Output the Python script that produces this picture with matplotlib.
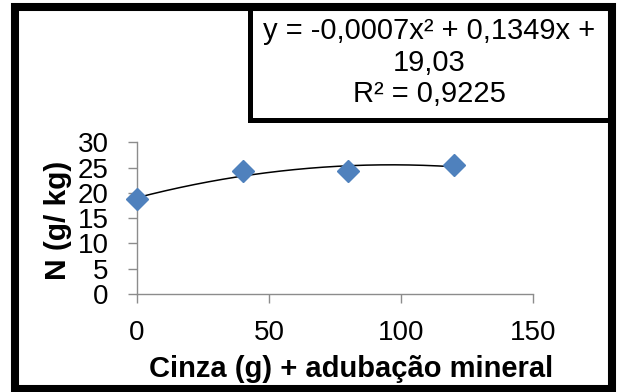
import numpy as np
import matplotlib
matplotlib.use("Agg")
import matplotlib.pyplot as plt
from matplotlib.patches import Rectangle
from matplotlib.lines import Line2D

# Data
cinza = [0, 40, 80, 120]                 # g of ash + mineral fertilizer
nitrogenio = [18.8, 24.4, 24.4, 25.5]    # N (g/kg)
coef = [-0.0007, 0.1349, 19.03]          # quadratic trend: a, b, c
r2_text = "R² = 0,9225"
eq_lines = ["y = -0,0007x² + 0,1349x +", "19,03", r2_text]
x_ticks = [0, 50, 100, 150]
y_ticks = [0, 5, 10, 15, 20, 25, 30]

plt.rcParams["font.family"] = ["Liberation Sans", "DejaVu Sans"]

W, H = 620, 392
fig = plt.figure(figsize=(W / 100, H / 100), dpi=100)
fig.patch.set_facecolor("white")

def fx(px):
    return px / W

def fy(py):
    return 1 - py / H

ax = fig.add_axes([fx(137), fy(294), fx(533) - fx(137), fy(142.2) - fy(294)])
ax.set_xlim(0, 150)
ax.set_ylim(0, 30)
ax.set_xticks(x_ticks)
ax.set_yticks(y_ticks)
for s in ("top", "right"):
    ax.spines[s].set_visible(False)
for s in ("left", "bottom"):
    ax.spines[s].set_color("#8c8c8c")
    ax.spines[s].set_linewidth(1.0)
ax.tick_params(direction="out", length=6.5, width=1.0, color="#8c8c8c",
               labelsize=20, labelcolor="black")
ax.tick_params(axis="y", pad=14)
ax.tick_params(axis="x", pad=12)

# Trend line from the fitted quadratic
xt = np.linspace(min(cinza), max(cinza), 200)
yt = np.polyval(coef, xt)
ax.plot(xt, yt, color="black", lw=1.1, zorder=2)

# Observed values
ax.plot(cinza, nitrogenio, linestyle="none", marker="D", markersize=11.5,
        color="#4f81bd", markeredgecolor="#4f81bd", zorder=3, clip_on=False)

# Axis titles
fig.text(fx(351), fy(369), "Cinza (g) + adubação mineral", fontsize=21,
         fontweight="bold", ha="center", va="center")
fig.text(fx(58), fy(220), "N (g/ kg)", fontsize=21.5, fontweight="bold",
         rotation=90, ha="center", va="center")

# Outer frame
fig.add_artist(Rectangle((fx(14.5), fy(389)), fx(612) - fx(14.5), fy(7) - fy(389),
                         transform=fig.transFigure, fill=False,
                         edgecolor="black", linewidth=5.8))

# Equation box
fig.add_artist(Line2D([fx(249.5), fx(249.5)], [fy(7), fy(120)],
                      transform=fig.transFigure, color="black", lw=3.6,
                      solid_capstyle="projecting"))
fig.add_artist(Line2D([fx(249.5), fx(612)], [fy(120), fy(120)],
                      transform=fig.transFigure, color="black", lw=3.6,
                      solid_capstyle="projecting"))

for line, ypx in zip(eq_lines, [31, 63, 94]):
    fig.text(fx(429), fy(ypx), line, fontsize=21, ha="center", va="center")

fig.savefig("out.png", dpi=100, facecolor="white")
